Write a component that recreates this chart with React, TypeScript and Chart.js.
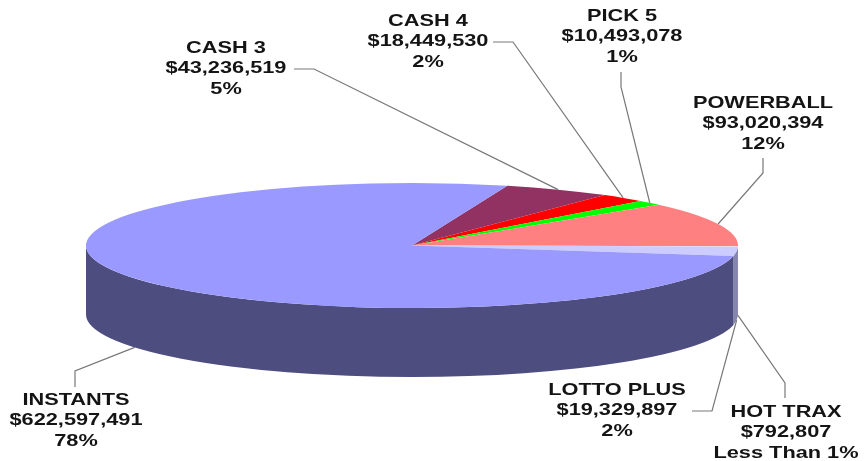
import React, { useEffect, useRef } from "react";
import { Chart, registerables } from "chart.js";

Chart.register(...registerables);

const categories = ["CASH 3", "CASH 4", "PICK 5", "POWERBALL", "HOT TRAX", "LOTTO PLUS", "INSTANTS"];
const sales = [43236519, 18449530, 10493078, 93020394, 792807, 19329897, 622597491];
const amountLabels = ["$43,236,519", "$18,449,530", "$10,493,078", "$93,020,394", "$792,807", "$19,329,897", "$622,597,491"];
const shareLabels = ["5%", "2%", "1%", "12%", "Less Than 1%", "2%", "78%"];

const topColors = ["#923263", "#ff0000", "#00ff00", "#ff8080", "#ffffcc", "#ccccff", "#9999ff"];
const wallColors = ["#4d1a33", "#800000", "#008000", "#804040", "#808066", "#8585ae", "#4d4d80"];

// Layout of the projected pie
const CX = 412;
const CY = 245.5;
const RX = 326;
const RY = 62.5;
const DEPTH = 69;
const ROTATION = 17;

// Label block centres and leader-line elbows, in category order
const labelX = [226, 428, 622, 763, 786, 617, 76];
const labelY = [48, 21, 16, 103, 412, 390, 400];
const elbows: number[][][] = [
  [[294, 69], [314, 69]],
  [[493, 42], [513, 42]],
  [[621, 72], [621, 87]],
  [[763, 158], [763, 173]],
  [[785, 398], [785, 383]],
  [[692, 411], [712, 411]],
  [[75, 387], [75, 371]],
];

const LINE_GAP = 20.8;
const FONT_SIZE = 16.5;
const TEXT_STRETCH = 1.318;

const pie3d = {
  id: "pie3d",
  beforeDatasetsDraw(chart: any) {
    const ctx = chart.ctx as CanvasRenderingContext2D;
    const arcs = chart.getDatasetMeta(0).data;
    // side wall, from each slice's own angles
    arcs.forEach((arc: any, i: number) => {
      for (let k = -1; k <= 1; k++) {
        const off = k * Math.PI * 2;
        const a = Math.max(arc.startAngle + off, 0);
        const b = Math.min(arc.endAngle + off, Math.PI);
        if (b <= a) continue;
        ctx.beginPath();
        ctx.ellipse(CX, CY, RX, RY, 0, a, b);
        ctx.ellipse(CX, CY + DEPTH, RX, RY, 0, b, a, true);
        ctx.closePath();
        ctx.fillStyle = wallColors[i];
        ctx.fill();
      }
    });
    // flatten the library's pie into the ellipse of the top face
    const first = arcs[0];
    ctx.save();
    ctx.translate(CX, CY);
    ctx.scale(RX / first.outerRadius, RY / first.outerRadius);
    ctx.translate(-first.x, -first.y);
  },
  afterDatasetsDraw(chart: any) {
    const ctx = chart.ctx as CanvasRenderingContext2D;
    ctx.restore();
    const arcs = chart.getDatasetMeta(0).data;

    // leader lines
    ctx.save();
    ctx.strokeStyle = "#787878";
    ctx.lineWidth = 1.2;
    arcs.forEach((arc: any, i: number) => {
      const mid = (arc.startAngle + arc.endAngle) / 2;
      const s = Math.sin(mid);
      const ax = CX + RX * Math.cos(mid);
      const ay = CY + RY * s + (s > 0 ? DEPTH : 0);
      ctx.beginPath();
      elbows[i].forEach(([x, y], j) => (j === 0 ? ctx.moveTo(x, y) : ctx.lineTo(x, y)));
      ctx.lineTo(ax, ay);
      ctx.stroke();
    });
    ctx.restore();

    // labels (the reference's type is stretched sideways)
    ctx.save();
    ctx.fillStyle = "#141414";
    ctx.font = `bold ${FONT_SIZE}px "Liberation Sans", Arial, sans-serif`;
    ctx.textAlign = "center";
    ctx.textBaseline = "middle";
    categories.forEach((name, i) => {
      [name, amountLabels[i], shareLabels[i]].forEach((line, j) => {
        ctx.save();
        ctx.translate(labelX[i], labelY[i] + j * LINE_GAP);
        ctx.scale(TEXT_STRETCH, 1);
        ctx.fillText(line, 0, 0);
        ctx.restore();
      });
    });
    ctx.restore();
  },
};

export default function App() {
  const ref = useRef<HTMLCanvasElement>(null);
  useEffect(() => {
    document.body.style.margin = "0";
    document.body.style.background = "#ffffff";
    const chart = new Chart(ref.current as HTMLCanvasElement, {
      type: "pie",
      data: {
        labels: categories,
        datasets: [
          {
            data: sales,
            backgroundColor: topColors,
            borderWidth: 0,
            clip: false,
          } as any,
        ],
      },
      options: {
        animation: false,
        responsive: false,
        rotation: ROTATION,
        layout: { padding: 0 },
        plugins: { legend: { display: false }, tooltip: { enabled: false } },
      },
      plugins: [pie3d],
    });
    return () => chart.destroy();
  }, []);
  return (
    <div style={{ width: 867, height: 461, overflow: "hidden" }}>
      <canvas ref={ref} width={867} height={461} style={{ display: "block", filter: "blur(0.4px)" }} />
    </div>
  );
}
